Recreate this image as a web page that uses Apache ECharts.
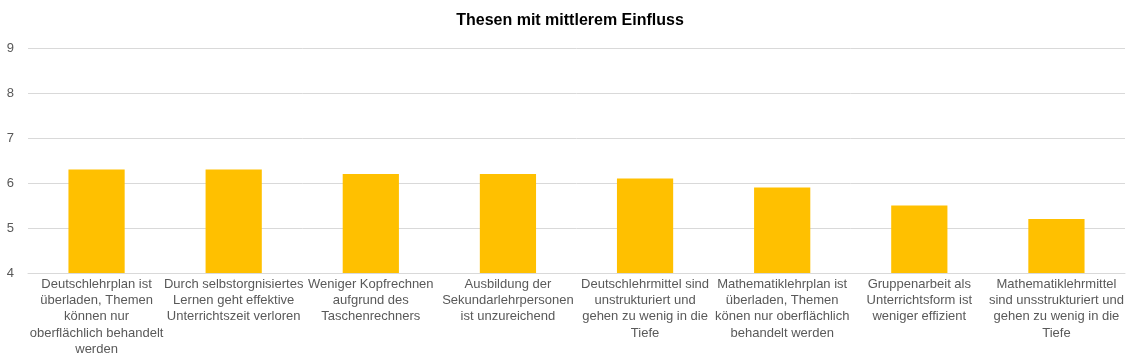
<!DOCTYPE html>
<html>
<head>
<meta charset="utf-8">
<script src="https://cdn.jsdelivr.net/npm/echarts@6/dist/echarts.min.js"></script>
<style>html,body{margin:0;padding:0;background:#fff;}#c{width:1140px;height:361px;}</style>
</head>
<body>
<div id="c"></div>
<script>
const title = "Thesen mit mittlerem Einfluss";
const categories = [
  "Deutschlehrplan ist\nüberladen, Themen\nkönnen nur\noberflächlich behandelt\nwerden",
  "Durch selbstorgnisiertes\nLernen geht effektive\nUnterrichtszeit verloren",
  "Weniger Kopfrechnen\naufgrund des\nTaschenrechners",
  "Ausbildung der\nSekundarlehrpersonen\nist unzureichend",
  "Deutschlehrmittel sind\nunstrukturiert und\ngehen zu wenig in die\nTiefe",
  "Mathematiklehrplan ist\nüberladen, Themen\nkönen nur oberflächlich\nbehandelt werden",
  "Gruppenarbeit als\nUnterrichtsform ist\nweniger effizient",
  "Mathematiklehrmittel\nsind unsstrukturiert und\ngehen zu wenig in die\nTiefe"
];
const values = [6.3, 6.3, 6.2, 6.2, 6.1, 5.9, 5.5, 5.2];
const yMin = 4, yMax = 9, yStep = 1;

const chart = echarts.init(document.getElementById('c'), null, {renderer: 'canvas'});
chart.setOption({
  animation: false,
  backgroundColor: '#fff',
  title: {
    text: title, left: 'center', top: 8,
    textStyle: {fontFamily: 'Liberation Sans, Arial, sans-serif', fontSize: 16, fontWeight: 'bold', color: '#000'}
  },
  grid: {left: 28, right: 15, top: 48, bottom: 88, containLabel: false},
  xAxis: {
    type: 'category', data: categories,
    axisLine: {show: true, lineStyle: {color: '#d9d9d9'}},
    axisTick: {show: false},
    axisLabel: {
      interval: 0, margin: 3, color: '#595959', lineHeight: 16.3,
      fontFamily: 'Liberation Sans, Arial, sans-serif', fontSize: 13, align: 'center'
    }
  },
  yAxis: {
    type: 'value', min: yMin, max: yMax, interval: yStep,
    axisLine: {show: false}, axisTick: {show: false},
    splitLine: {lineStyle: {color: '#d9d9d9'}},
    axisLabel: {margin: 14, color: '#595959', fontFamily: 'Liberation Sans, Arial, sans-serif', fontSize: 13}
  },
  series: [{
    type: 'bar', data: values, barCategoryGap: '59%',
    itemStyle: {color: '#ffc000'}
  }]
});
</script>
</body>
</html>
